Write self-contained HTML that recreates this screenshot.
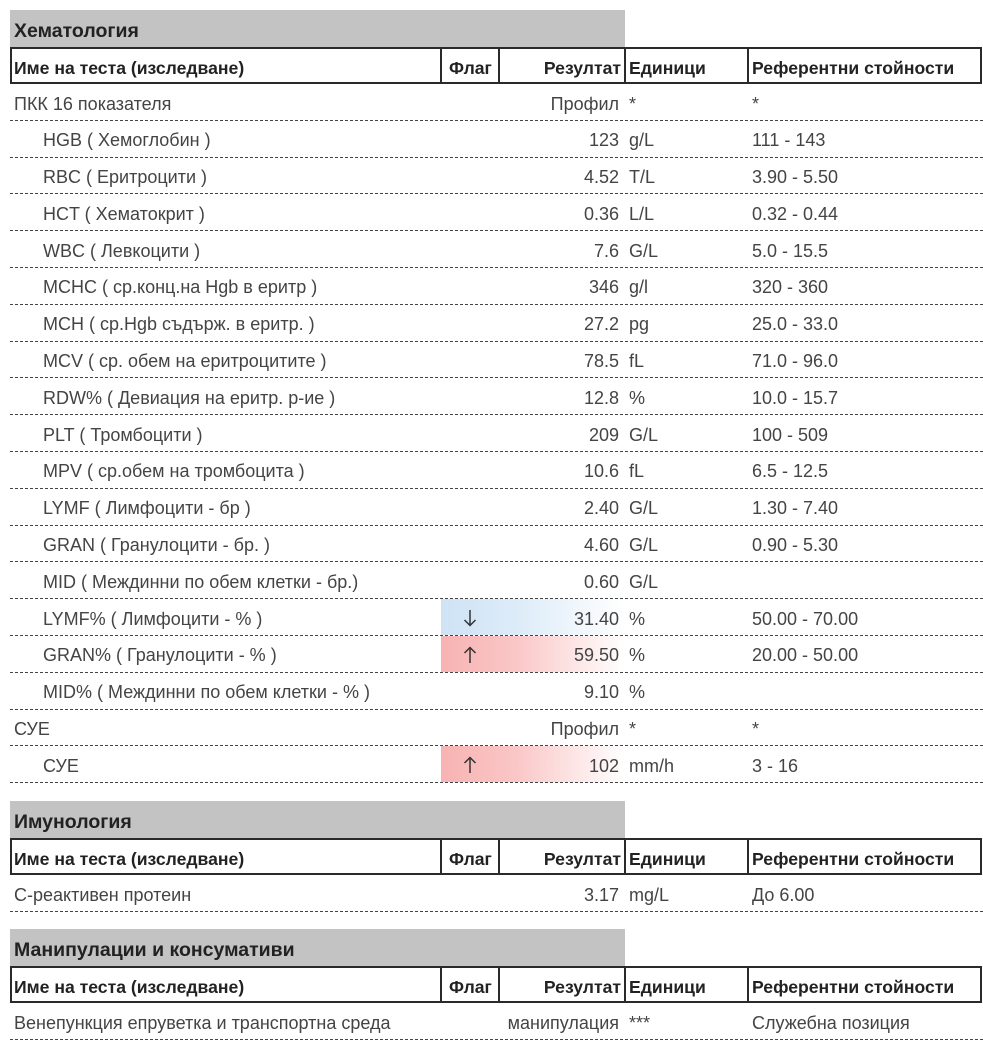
<!DOCTYPE html>
<html><head><meta charset="utf-8">
<style>
*{margin:0;padding:0;box-sizing:border-box}
html,body{width:983px;height:1044px;background:#fff;overflow:hidden}
body{font-family:"Liberation Sans","DejaVu Sans",sans-serif;font-size:18px;color:#444;position:relative}
.sec{position:absolute;left:0;width:983px}
.title{position:relative;height:37px}
.title .bg{position:absolute;left:10px;top:0;width:615px;height:37px;background:#c3c3c3}
.title span{position:absolute;left:14px;top:2px;line-height:38px;font-weight:bold;color:#222;font-size:19.5px}
.hdr{position:relative;height:37px}
.hdr .box{position:absolute;left:10px;top:0;width:972px;height:37px;border:2px solid #2a2a2a}
.hdr .sep{position:absolute;top:0;width:2px;height:37px;background:#2a2a2a}
.hdr span{position:absolute;top:2.5px;line-height:37px;font-weight:bold;color:#222;white-space:nowrap;font-size:17.6px}
.row{position:relative;height:36.8px}
.row::after{content:"";position:absolute;left:10px;right:0;bottom:0;height:1px;background:repeating-linear-gradient(to right,#444 0 3px,transparent 3px 5px)}
.row span{position:absolute;top:1.5px;line-height:37px;white-space:nowrap}
.n{left:14px}
.i{left:43px}
.r{left:460px;width:159px;text-align:right}
.u{left:629px}
.v{left:752px}
.ar{position:absolute;left:463px;top:10px;width:14px;height:18px}
.gb{position:absolute;left:441px;top:0;width:184px;bottom:1px;background:linear-gradient(to right,#cfe3f5 0%,#dcebf8 40%,#ffffff 100%)}
.gr{position:absolute;left:441px;top:0;width:184px;bottom:1px;background:linear-gradient(to right,#f8b3b3 0%,#fac6c6 40%,#ffffff 100%)}
</style></head><body>

<div class="sec" style="top:10px">
  <div class="title"><div class="bg"></div><span>Хематология</span></div>
  <div class="hdr"><div class="box"></div>
    <div class="sep" style="left:440px"></div><div class="sep" style="left:498px"></div><div class="sep" style="left:624px"></div><div class="sep" style="left:747px"></div>
    <span style="left:14px">Име на теста (изследване)</span>
    <span style="left:449px">Флаг</span>
    <span style="left:499px;width:122px;text-align:right">Резултат</span>
    <span style="left:629px">Единици</span>
    <span style="left:752px">Референтни стойности</span>
  </div>
  <div class="row"><span class="n">ПКК 16 показателя</span><span class="r">Профил</span><span class="u">*</span><span class="v">*</span></div>
  <div class="row"><span class="i">HGB ( Хемоглобин )</span><span class="r">123</span><span class="u">g/L</span><span class="v">111 - 143</span></div>
  <div class="row"><span class="i">RBC ( Еритроцити )</span><span class="r">4.52</span><span class="u">T/L</span><span class="v">3.90 - 5.50</span></div>
  <div class="row"><span class="i">HCT ( Хематокрит )</span><span class="r">0.36</span><span class="u">L/L</span><span class="v">0.32 - 0.44</span></div>
  <div class="row"><span class="i">WBC ( Левкоцити )</span><span class="r">7.6</span><span class="u">G/L</span><span class="v">5.0 - 15.5</span></div>
  <div class="row"><span class="i">MCHC ( ср.конц.на Hgb в еритр )</span><span class="r">346</span><span class="u">g/l</span><span class="v">320 - 360</span></div>
  <div class="row"><span class="i">MCH ( ср.Hgb съдърж. в еритр. )</span><span class="r">27.2</span><span class="u">pg</span><span class="v">25.0 - 33.0</span></div>
  <div class="row"><span class="i">MCV ( ср. обем на еритроцитите )</span><span class="r">78.5</span><span class="u">fL</span><span class="v">71.0 - 96.0</span></div>
  <div class="row"><span class="i">RDW% ( Девиация на еритр. р-ие )</span><span class="r">12.8</span><span class="u">%</span><span class="v">10.0 - 15.7</span></div>
  <div class="row"><span class="i">PLT ( Тромбоцити )</span><span class="r">209</span><span class="u">G/L</span><span class="v">100 - 509</span></div>
  <div class="row"><span class="i">MPV ( ср.обем на тромбоцита )</span><span class="r">10.6</span><span class="u">fL</span><span class="v">6.5 - 12.5</span></div>
  <div class="row"><span class="i">LYMF ( Лимфоцити - бр )</span><span class="r">2.40</span><span class="u">G/L</span><span class="v">1.30 - 7.40</span></div>
  <div class="row"><span class="i">GRAN ( Гранулоцити - бр. )</span><span class="r">4.60</span><span class="u">G/L</span><span class="v">0.90 - 5.30</span></div>
  <div class="row"><span class="i">MID ( Междинни по обем клетки - бр.)</span><span class="r">0.60</span><span class="u">G/L</span></div>
  <div class="row"><div class="gb"></div><span class="i">LYMF% ( Лимфоцити - % )</span><svg class="ar" viewBox="0 0 14 18"><path d="M7 1 V16.5 M1.5 11 L7 16.5 L12.5 11" fill="none" stroke="#333" stroke-width="1.5"/></svg><span class="r">31.40</span><span class="u">%</span><span class="v">50.00 - 70.00</span></div>
  <div class="row"><div class="gr"></div><span class="i">GRAN% ( Гранулоцити - % )</span><svg class="ar" viewBox="0 0 14 18"><path d="M7 17 V1.5 M1.5 7 L7 1.5 L12.5 7" fill="none" stroke="#333" stroke-width="1.5"/></svg><span class="r">59.50</span><span class="u">%</span><span class="v">20.00 - 50.00</span></div>
  <div class="row"><span class="i">MID% ( Междинни по обем клетки - % )</span><span class="r">9.10</span><span class="u">%</span></div>
  <div class="row"><span class="n">СУЕ</span><span class="r">Профил</span><span class="u">*</span><span class="v">*</span></div>
  <div class="row"><div class="gr"></div><span class="i">СУЕ</span><svg class="ar" viewBox="0 0 14 18"><path d="M7 17 V1.5 M1.5 7 L7 1.5 L12.5 7" fill="none" stroke="#333" stroke-width="1.5"/></svg><span class="r">102</span><span class="u">mm/h</span><span class="v">3 - 16</span></div>
</div>

<div class="sec" style="top:801px">
  <div class="title"><div class="bg"></div><span>Имунология</span></div>
  <div class="hdr"><div class="box"></div>
    <div class="sep" style="left:440px"></div><div class="sep" style="left:498px"></div><div class="sep" style="left:624px"></div><div class="sep" style="left:747px"></div>
    <span style="left:14px">Име на теста (изследване)</span>
    <span style="left:449px">Флаг</span>
    <span style="left:499px;width:122px;text-align:right">Резултат</span>
    <span style="left:629px">Единици</span>
    <span style="left:752px">Референтни стойности</span>
  </div>
  <div class="row"><span class="n">С-реактивен протеин</span><span class="r">3.17</span><span class="u">mg/L</span><span class="v">До 6.00</span></div>
</div>

<div class="sec" style="top:929px">
  <div class="title"><div class="bg"></div><span>Манипулации и консумативи</span></div>
  <div class="hdr"><div class="box"></div>
    <div class="sep" style="left:440px"></div><div class="sep" style="left:498px"></div><div class="sep" style="left:624px"></div><div class="sep" style="left:747px"></div>
    <span style="left:14px">Име на теста (изследване)</span>
    <span style="left:449px">Флаг</span>
    <span style="left:499px;width:122px;text-align:right">Резултат</span>
    <span style="left:629px">Единици</span>
    <span style="left:752px">Референтни стойности</span>
  </div>
  <div class="row"><span class="n">Венепункция епруветка и транспортна среда</span><span class="r">манипулация</span><span class="u">***</span><span class="v">Служебна позиция</span></div>
</div>

</body></html>
